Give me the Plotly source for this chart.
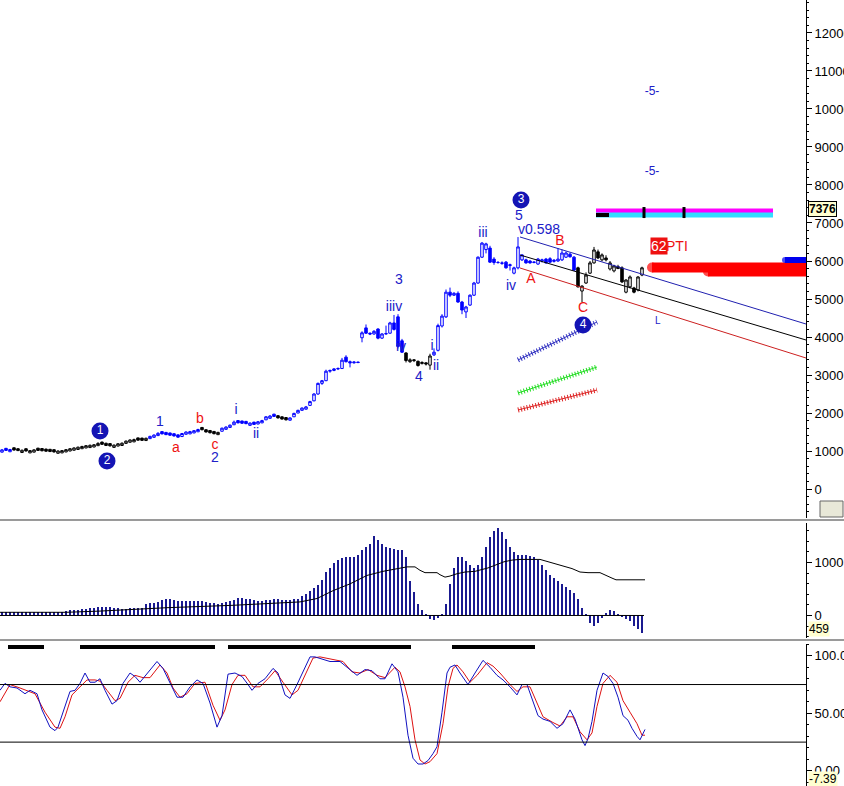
import plotly.graph_objects as go

# ---------------- DATA ----------------
opens = [970,1070,980,1085,1060,960,1060,950,970,1075,
1065,1050,1045,1035,940,950,975,1000,1020,1040,
1060,1080,1090,1105,1140,1235,1205,1195,1095,1130,
1145,1200,1230,1240,1345,1340,1275,1325,1360,1405,
1510,1490,1475,1455,1425,1380,1440,1450,1475,1505,
1620,1560,1540,1515,1430,1520,1570,1620,1690,1800,
1790,1780,1675,1760,1710,1740,1820,1860,1970,1930,
1900,1880,1810,1900,2000,2070,2100,2200,2320,2500,
2780,2850,3100,3120,3160,3170,3470,3350,3320,3340,
3980,4240,4100,4080,4210,3970,4080,4100,4370,4530,
3900,3580,3350,3400,3360,3300,3320,3260,3530,3650,
4290,4530,5180,5100,5150,4920,4660,4840,5100,5420,
6100,6300,6340,6050,5960,5950,5970,5880,5680,5820,
6030,6030,6000,5960,5920,6000,6050,6060,5990,6000,
6030,6100,6180,6100,5820,5210,5420,5680,5950,6240,
6030,6080,5790,5740,5850,5820,5180,5320,5290,5240,
5630]
highs = [1050,1080,1055,1090,1070,1035,1065,1025,1045,1080,
1070,1060,1050,1040,1015,1025,1050,1075,1095,1115,
1135,1155,1170,1180,1230,1245,1215,1200,1170,1205,
1225,1275,1305,1325,1350,1345,1350,1400,1435,1495,
1515,1495,1480,1460,1430,1475,1515,1530,1550,1585,
1625,1570,1545,1520,1505,1615,1650,1695,1800,1810,
1795,1785,1750,1765,1790,1820,1915,1945,1975,1935,
1905,1885,1885,2005,2085,2145,2185,2320,2520,2800,
2870,3140,3140,3180,3200,3450,3520,3380,3360,3350,
4150,4330,4120,4180,4230,4100,4300,4400,4580,4600,
3950,3600,3440,3420,3380,3360,3330,3560,3700,4350,
4600,5250,5300,5180,5200,4950,4820,5120,5450,6120,
6500,6480,6400,6100,6000,5990,6000,5930,5850,6630,
6180,6060,6020,5990,6080,6060,6080,6100,6050,6340,
6300,6250,6220,6130,5850,5360,5700,6000,6370,6300,
6200,6150,6000,5900,5900,5860,5520,5620,5320,5600,
5850]
lows = [960,1000,975,1015,1000,955,990,945,965,1005,
995,985,975,960,935,945,970,995,1015,1035,
1055,1075,1085,1100,1135,1165,1130,1120,1090,1125,
1140,1195,1225,1235,1275,1265,1270,1320,1355,1400,
1440,1420,1405,1385,1350,1370,1435,1445,1470,1500,
1545,1490,1465,1440,1425,1515,1565,1615,1685,1730,
1715,1705,1670,1690,1705,1735,1815,1855,1895,1860,
1830,1805,1805,1895,1995,2065,2095,2195,2310,2480,
2740,2840,3060,3100,3130,3160,3330,3200,3300,3310,
3860,4080,4050,4060,3940,3950,4060,4090,4170,3700,
3580,3330,3320,3340,3220,3280,3250,3140,3500,3620,
4250,4500,5050,5080,4900,4600,4500,4820,5080,5400,
6080,6200,5950,5900,5930,5900,5800,5750,5650,5780,
6000,5930,5930,5940,5900,5960,5930,5950,5960,5980,
6000,6080,6090,5740,5300,4920,5400,5660,5930,6050,
5990,5990,5750,5700,5790,5420,5150,5280,5150,5200,
5600]
closes = [1030,1015,1040,1025,1010,1020,1000,1010,1030,1015,
1005,995,985,975,1000,1010,1035,1060,1080,1100,
1120,1140,1150,1165,1200,1175,1145,1135,1155,1190,
1205,1260,1290,1300,1285,1280,1335,1385,1420,1465,
1450,1430,1415,1395,1365,1460,1500,1510,1535,1565,
1560,1500,1480,1455,1490,1600,1630,1680,1760,1740,
1730,1720,1735,1700,1770,1800,1900,1920,1910,1870,
1840,1820,1870,1990,2070,2130,2160,2300,2500,2780,
2850,3100,3120,3160,3170,3390,3350,3320,3340,3330,
4110,4100,4080,4150,3970,4080,4090,4370,4200,3750,
3600,3380,3400,3380,3250,3330,3290,3500,3600,4300,
4550,5180,5100,5150,4920,4710,4790,5100,5420,6100,
6470,6450,5970,5960,5960,5940,5820,5900,5820,6370,
6160,5950,5950,5970,6050,6030,5950,5970,6020,6050,
6210,6210,6110,5760,5320,5340,5630,5950,6290,6080,
6160,6030,5950,5870,5800,5450,5500,5580,5180,5580,
5820]
black_ranges = [(3, 36), (50, 54), (69, 71), (101, 107), (144, 160)]

macd_hist = [70,70,70,70,70,70,70,70,70,70,
70,70,70,70,70,70,80,95,103,110,
120,128,140,147,167,167,167,160,150,140,
130,130,140,147,147,150,212,230,244,250,
295,308,308,290,276,270,270,276,280,276,
276,260,244,230,220,230,250,270,300,327,
327,320,310,300,276,280,295,300,308,308,
300,300,300,308,320,359,400,468,520,577,
673,820,897,981,1045,1090,1100,1109,1100,1141,
1237,1300,1346,1494,1429,1346,1301,1282,1256,1237,
1237,1100,660,436,210,100,30,-60,-90,-40,
30,210,600,900,1100,1100,1030,960,900,950,
1100,1300,1480,1600,1650,1580,1450,1300,1190,1140,
1140,1140,1130,1100,1040,960,860,770,700,650,
600,530,490,430,320,150,20,-150,-190,-150,
-50,40,100,90,30,-20,-70,-110,-190,-260,
-330]
signal_x = [-0.5,16,24.5,41.25,57.75,74.5,78.75,82.75,87,91.25,95.25,99.5,101.25,103.25,
            104.5,105.75,108.75,109.5,110.75,112,113.75,115.75,118.25,121.5,123.5,125.5,
            127.5,129.5,134.5,136.5,138.5,140.5,142.5,144.5,146.5,149.5,150.5,152.5,153.5,160.75]
signal_y = [60,60,83,147,192,256,320,468,596,756,833,897,917,917,
            852,808,808,769,724,744,788,820,833,897,962,1013,
            1045,1058,1058,1013,962,930,885,820,808,808,769,705,673,673]

k_x = [-0.5,0.75,2,3.75,5.75,7,8.75,10,12,13.25,14,15.75,17,18.25,19.5,20.75,22,23.25,24.5,25.75,
       27.5,28.75,30.25,32,33.25,34.5,36.5,38.75,40.25,42,43.75,45.25,47,48.75,50.25,52,53.75,55,
       56.5,58.25,60,61.5,62.5,64,65.75,67.75,69,70.75,72,73.75,75.75,77,78.25,80,82,84.5,86.5,
       88.75,90.75,92.5,94.5,95.75,97.5,99,100.25,101.5,102.75,104,105.25,106.5,107.75,108.75,
       110,111.25,112,113.25,114.5,116.5,118.25,120.25,122,123.75,125.25,127,128.75,130,131.25,
       132.75,134,135.25,137,138.75,140.25,142,143.25,145,145.75,146.5,147.5,148.75,150.25,151.5,
       152.75,154,155.25,156.5,157.5,158.75,159.5,160.75]
k_y = [70,76,73,72,67,70,67,53,38,35,38,55,69,70,76,85,77,77,80,70,
       58,61,76,85,82,77,85,95,89,76,64,64,73,79,76,59,38,48,
       84,85,82,75,70,76,80,89,85,66,63,75,90,99,99,97,95,95,89,
       83,88,87,80,80,93,86,64,31,11,6,6,9,15,21,
       51,85,90,92,85,75,85,96,90,83,79,73,66,75,75,
       60,48,45,43,37,41,53,45,27,22,28,43,70,85,82,
       76,64,48,44,37,30,27,36]
d_x = [-0.5,2,4.5,8.25,10.75,13.25,14.5,15.75,17.5,19.5,21.25,23.25,24.5,26.25,28.25,29.5,31.5,
       33.25,35.25,37,39.5,41.25,42.75,44.5,46.25,48.25,50.75,52.75,54.5,55.75,57.5,59,60.75,
       62.75,64.5,66.5,68.25,70.25,72.5,74,76.25,77.75,79.5,82,85.25,87.5,89.5,91.5,93.75,95.75,
       98.25,99.5,100.75,102,103.25,104.5,105.75,107,108.75,110.25,111.5,112.75,113.75,115.25,
       117,118.75,121.25,122.75,124.5,127,128.75,130.25,132,133.75,135.25,137.75,139.5,141.25,
       142.75,144.5,146.25,147.5,148.75,150.25,152,153.75,155.25,157,158.75,160,160.75]
d_y = [60,75,72,67,51,38,37,47,66,73,79,79,78,70,61,63,77,
       83,81,81,92,85,72,64,67,76,77,57,44,53,75,83,83,
       73,73,80,87,77,66,70,86,98,99,97,95,86,85,88,83,81,
       90,86,73,56,27,9.5,6,8,15,41,73,89,92,86,
       77,83,94,91,85,75,69,73,73,59,47,42,39,47,
       47,34,27,33,56,76,83,77,61,51,41,31,31]
stoch_bar_start = [1.5, 19.5, 56.5, 112.5]
stoch_bar_end = [10.5, 53.25, 102.25, 133.25]
stoch_bar_level = 107.5

blue_txt = ["1", "2", "i", "ii", "3", "iiiv", "iv", "4", "i", "ii", "iii", "iv", "5"]
blue_x = [39.5, 53.25, 58.5, 63.5, 99.25, 98, 99.75, 104.25, 107.5, 108.5, 120.25, 127.25, 129.25]
blue_y = [1763, 816, 2053, 1447, 5500, 4789, 3711, 2947, 3737, 3211, 6711, 5342, 7158]
red_txt = ["a", "b", "c", "A", "B", "C"]
red_x = [43.5, 49.5, 53.25, 132.25, 139.5, 145.25]
red_y = [1079, 1842, 1158, 5526, 6526, 4737]
circ_txt = ["1", "2", "3", "4"]
circ_x = [24.5, 26.25, 129.75, 145.25]
circ_y = [1526, 737, 7605, 4316]
ratio_txt = "v0.598"
ratio_x, ratio_y = 128.5, 6842
proj_txt = ["-5-", "-5-"]
proj_x = [162.5, 162.5]
proj_y = [10447, 8342]

chan_x = [129.5, 201]
chan_blue = [6632, 4342]
chan_black = [6158, 3921]
chan_red = [5816, 3447]
hatch_x = [129, 148.75]
hatch_blue = [3395, 4395]
hatch_green = [2526, 3210]
hatch_red = [2079, 2605]
band_x = [148.5, 192.75]
band_magenta = 7316
band_cyan = 7211
band_black_x = [148.5, 151.75]
band_tick_x = [160.5, 170.5]
band_tick_y = [7130, 7420]
target_red1_x = [162.5, 201]
target_red1_y = 5829
target_red2_x = [176.5, 201]
target_red2_y = 5724
target_blue_x = [195.75, 201]
target_blue_y = 6026

price_ticks = [0, 1000, 2000, 3000, 4000, 5000, 6000, 7000, 8000, 9000, 10000, 11000, 12000]

# ---------------- FIGURE ----------------
BLUE = "#0000ff"
LBLUE = "#2020c8"
RED = "#ee1111"
FONT = "Liberation Sans, Arial, sans-serif"

fig = go.Figure()

idx = list(range(len(closes)))
def is_black(i):
    return any(a <= i <= b for a, b in black_ranges)

for col, sel in ((BLUE, [i for i in idx if not is_black(i)]), ("#000000", [i for i in idx if is_black(i)])):
    fig.add_trace(go.Candlestick(
        x=sel, open=[opens[i] for i in sel], high=[highs[i] for i in sel],
        low=[lows[i] for i in sel], close=[closes[i] for i in sel],
        increasing=dict(line=dict(color=col, width=1), fillcolor="white"),
        decreasing=dict(line=dict(color=col, width=1), fillcolor=col),
        whiskerwidth=0, showlegend=False, xaxis="x", yaxis="y", hoverinfo="skip"))

# channel lines
for ys, c in ((chan_blue, "#2020b0"), (chan_black, "#000000"), (chan_red, "#cc2020")):
    fig.add_trace(go.Scatter(x=chan_x, y=ys, mode="lines", line=dict(color=c, width=1),
                             showlegend=False, xaxis="x", yaxis="y", hoverinfo="skip"))
# hatched lines
for ys, c in ((hatch_blue, "#3030c0"), (hatch_green, "#22dd22"), (hatch_red, "#dd2222")):
    fig.add_trace(go.Scatter(x=hatch_x, y=ys, mode="lines", line=dict(color=c, width=1),
                             showlegend=False, xaxis="x", yaxis="y", hoverinfo="skip"))
    fig.add_trace(go.Scatter(x=hatch_x, y=ys, mode="lines", line=dict(color=c, width=5, dash="1px,2px"),
                             showlegend=False, xaxis="x", yaxis="y", hoverinfo="skip"))
# projection band
fig.add_trace(go.Scatter(x=band_x, y=[band_magenta]*2, mode="lines", line=dict(color="#ff00ff", width=5),
                         showlegend=False, xaxis="x", yaxis="y", hoverinfo="skip"))
fig.add_trace(go.Scatter(x=band_x, y=[band_cyan]*2, mode="lines", line=dict(color="#33ddff", width=5),
                         showlegend=False, xaxis="x", yaxis="y", hoverinfo="skip"))
fig.add_trace(go.Scatter(x=band_black_x, y=[band_cyan]*2, mode="lines", line=dict(color="#000000", width=4),
                         showlegend=False, xaxis="x", yaxis="y", hoverinfo="skip"))
for tx in band_tick_x:
    fig.add_trace(go.Scatter(x=[tx, tx], y=band_tick_y, mode="lines", line=dict(color="#000000", width=3),
                             showlegend=False, xaxis="x", yaxis="y", hoverinfo="skip"))
# target bars
for xs, yv, c, w in ((target_red1_x, target_red1_y, "#ff0000", 10), (target_red2_x, target_red2_y, "#ff0000", 10),
                     (target_blue_x, target_blue_y, "#0000ee", 6)):
    fig.add_trace(go.Scatter(x=xs, y=[yv]*2, mode="lines+markers", line=dict(color=c, width=w),
                             marker=dict(size=[w, 0], color=c, line=dict(width=0)),
                             showlegend=False, xaxis="x", yaxis="y", hoverinfo="skip"))

# wave labels
fig.add_trace(go.Scatter(x=blue_x, y=blue_y, text=blue_txt, mode="text",
                         textfont=dict(color=LBLUE, size=14, family=FONT),
                         showlegend=False, xaxis="x", yaxis="y", hoverinfo="skip"))
fig.add_trace(go.Scatter(x=red_x, y=red_y, text=red_txt, mode="text",
                         textfont=dict(color=RED, size=14, family=FONT),
                         showlegend=False, xaxis="x", yaxis="y", hoverinfo="skip"))
fig.add_trace(go.Scatter(x=proj_x, y=proj_y, text=proj_txt, mode="text",
                         textfont=dict(color=LBLUE, size=12, family=FONT),
                         showlegend=False, xaxis="x", yaxis="y", hoverinfo="skip"))
fig.add_trace(go.Scatter(x=circ_x, y=circ_y, text=circ_txt, mode="markers+text",
                         marker=dict(size=17, color="#1414b4", line=dict(width=0)),
                         textfont=dict(color="white", size=12, family=FONT),
                         textposition="middle center",
                         showlegend=False, xaxis="x", yaxis="y", hoverinfo="skip"))

# MACD
fig.add_trace(go.Bar(x=idx, y=macd_hist, width=0.3, marker=dict(color="#1a1a90", line=dict(width=0)),
                     showlegend=False, xaxis="x2", yaxis="y2", hoverinfo="skip"))
fig.add_trace(go.Scatter(x=[idx[0] - 0.5, idx[-1] + 0.5], y=[0, 0], mode="lines",
                         line=dict(color="#000000", width=1), showlegend=False,
                         xaxis="x2", yaxis="y2", hoverinfo="skip"))
fig.add_trace(go.Scatter(x=signal_x, y=signal_y, mode="lines", line=dict(color="#000000", width=1),
                         showlegend=False, xaxis="x2", yaxis="y2", hoverinfo="skip"))

# Stochastic
for s, e in zip(stoch_bar_start, stoch_bar_end):
    fig.add_trace(go.Scatter(x=[s, e], y=[stoch_bar_level]*2, mode="lines", line=dict(color="#000000", width=4),
                             showlegend=False, xaxis="x3", yaxis="y3", hoverinfo="skip"))
fig.add_trace(go.Scatter(x=d_x, y=d_y, mode="lines", line=dict(color="#dd1111", width=1),
                         showlegend=False, xaxis="x3", yaxis="y3", hoverinfo="skip"))
fig.add_trace(go.Scatter(x=k_x, y=k_y, mode="lines", line=dict(color="#1010c0", width=1),
                         showlegend=False, xaxis="x3", yaxis="y3", hoverinfo="skip"))

XD = [0, 806 / 844]
xcommon = dict(domain=XD, range=[-0.5, 201], showticklabels=False, showgrid=False, zeroline=False,
               showline=False, ticks="", rangeslider=dict(visible=False), fixedrange=True)
ycommon = dict(side="right", showgrid=False, zeroline=False, showline=True, linecolor="#000000",
               linewidth=1, ticks="outside", ticklen=5, tickcolor="#000000",
               tickfont=dict(family=FONT, size=13, color="#000000"), automargin=False)

H = 786.0
fig.update_layout(
    width=844, height=786, margin=dict(l=0, r=0, t=0, b=0),
    paper_bgcolor="#ffffff", plot_bgcolor="#ffffff", showlegend=False,
    font=dict(family=FONT),
    xaxis=dict(**xcommon, anchor="y"),
    xaxis2=dict(**xcommon, anchor="y2", matches="x"),
    xaxis3=dict(**xcommon, anchor="y3", matches="x"),
    yaxis=dict(**ycommon, anchor="x", domain=[1 - 518 / H, 1], range=[-763, 12868],
               tickvals=price_ticks, tickformat="d",
               minor=dict(ticks="outside", ticklen=2, dtick=200, tickcolor="#000000")),
    yaxis2=dict(**ycommon, anchor="x2", domain=[1 - 638 / H, 1 - 523 / H], range=[-425, 1745],
                tickvals=[0, 1000], tickformat="d",
                minor=dict(ticks="outside", ticklen=2, dtick=200, tickcolor="#000000")),
    yaxis3=dict(**ycommon, anchor="x3", domain=[0, 1 - 644 / H], range=[-13.1, 110.2],
                tickvals=[0, 50, 100], ticktext=["0.00", "50.00", "100.00"],
                minor=dict(ticks="outside", ticklen=2, dtick=10, tickcolor="#000000")),
    bargap=0,
    boxgap=0.1,
)

# reference lines in stochastic panel
for lv in (25, 75):
    fig.add_shape(type="line", xref="x3 domain", yref="y3", x0=0, x1=1, y0=lv, y1=lv,
                  line=dict(color="#000000", width=1))

# panel separators
for top, bot in ((518, 523), (638, 644)):
    fig.add_shape(type="rect", xref="paper", yref="paper", x0=0, x1=1, y0=1 - bot / H, y1=1 - top / H,
                  fillcolor="#ffffff", line=dict(width=0), layer="above")
    fig.add_shape(type="line", xref="paper", yref="paper", x0=0, x1=1, y0=1 - (top + 2) / H, y1=1 - (top + 2) / H,
                  line=dict(color="#9a9a9a", width=2), layer="above")

# texts / boxes
fig.add_annotation(x=ratio_x, y=ratio_y, xref="x", yref="y", text=ratio_txt, showarrow=False,
                   xanchor="left", font=dict(color=LBLUE, size=14, family=FONT))
fig.add_annotation(x=164.25, y=6395, xref="x", yref="y", text="62", showarrow=False,
                   bgcolor="#ee1111", font=dict(color="white", size=14, family=FONT), borderpad=0)
fig.add_annotation(x=168.75, y=6395, xref="x", yref="y", text="PTI", showarrow=False,
                   font=dict(color="#ee1111", size=14, family=FONT))
fig.add_annotation(x=164, y=4447, xref="x", yref="y", text="L", showarrow=False,
                   font=dict(color=LBLUE, size=10, family=FONT))
fig.add_annotation(x=808 / 844, y=7376, xref="paper", yref="y", text="<b>7376</b>", showarrow=False,
                   xanchor="left", bgcolor="#ffffd0", bordercolor="#000000", borderwidth=1, borderpad=0,
                   font=dict(color="#000000", size=12, family=FONT))
fig.add_annotation(x=808 / 844, y=-400, xref="paper", yref="y2", text="459", showarrow=False,
                   xanchor="left", bgcolor="#ffffd0", borderpad=0, yanchor="bottom",
                   font=dict(color="#000000", size=12, family=FONT))
fig.add_annotation(x=808 / 844, y=-7.39, xref="paper", yref="y3", text="-7.39", showarrow=False,
                   xanchor="left", bgcolor="#ffffd0", borderpad=0,
                   font=dict(color="#000000", size=12, family=FONT))
fig.add_shape(type="rect", xref="paper", yref="paper", x0=820 / 844, x1=843 / 844,
              y0=1 - 517 / H, y1=1 - 501 / H, fillcolor="#e8e8d8", line=dict(color="#666666", width=1))

fig.write_html("out.html", config={"displayModeBar": False},
               post_script="document.body.style.margin='0';document.body.style.padding='0';")
